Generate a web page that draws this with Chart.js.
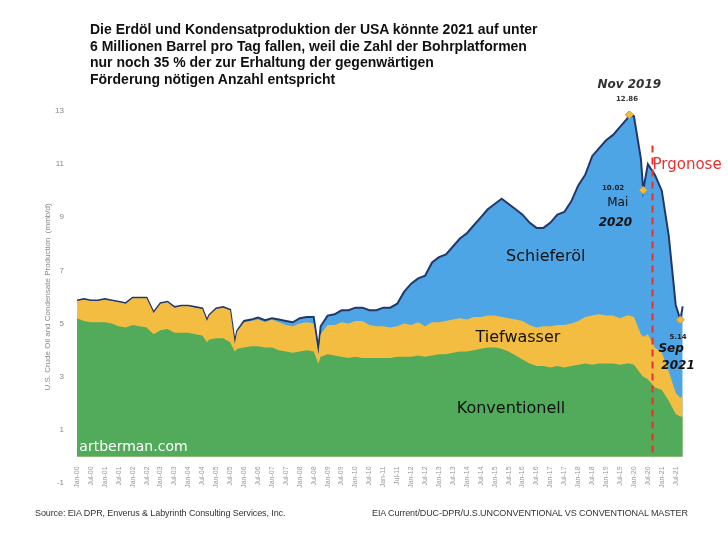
<!DOCTYPE html>
<html>
<head>
<meta charset="utf-8">
<script src="https://cdn.jsdelivr.net/npm/chart.js@4/dist/chart.umd.min.js"></script>
<style>
  body { margin: 0; background: #fff; }
  #wrap { position: relative; width: 728px; height: 539px; }
  .title { position: absolute; left: 90px; top: 21px; font: bold 14px "Liberation Sans", Arial, sans-serif; line-height: 16.5px; color: #111; }
  .foot { position: absolute; top: 508px; font: 9px "Liberation Sans", sans-serif; color: #333; letter-spacing: -0.1px; }
</style>
</head>
<body>
<div id="wrap">
  <canvas id="c" width="728" height="539"></canvas>
  <div class="title">Die Erdöl und Kondensatproduktion der USA könnte 2021 auf unter<br>6 Millionen Barrel pro Tag fallen, weil die Zahl der Bohrplatformen<br>nur noch 35 % der zur Erhaltung der gegenwärtigen<br>Förderung nötigen Anzahl entspricht</div>
  <div class="foot" style="left:35px">Source: EIA DPR, Enverus &amp; Labyrinth Consulting Services, Inc.</div>
  <div class="foot" style="left:372px">EIA Current/DUC-DPR/U.S.UNCONVENTIONAL VS CONVENTIONAL MASTER</div>
</div>
<script>
const MONTHS = ['Jan','Feb','Mar','Apr','May','Jun','Jul','Aug','Sep','Oct','Nov','Dec'];

// sample dates (YYYY-MM)
const dates = [
  '2000-01','2000-04','2000-07','2000-10',
  '2001-01','2001-04','2001-07','2001-10',
  '2002-01','2002-04','2002-07','2002-10',
  '2003-01','2003-04','2003-07','2003-10',
  '2004-01','2004-04','2004-07','2004-09','2004-10',
  '2005-01','2005-04','2005-07','2005-09','2005-10',
  '2006-01','2006-04','2006-07','2006-10',
  '2007-01','2007-04','2007-07','2007-10',
  '2008-01','2008-04','2008-07','2008-09','2008-10',
  '2009-01','2009-04','2009-07','2009-10',
  '2010-01','2010-04','2010-07','2010-10',
  '2011-01','2011-04','2011-07','2011-10',
  '2012-01','2012-04','2012-07','2012-10',
  '2013-01','2013-04','2013-07','2013-10',
  '2014-01','2014-04','2014-07','2014-10',
  '2015-01','2015-04','2015-07','2015-10',
  '2016-01','2016-04','2016-07','2016-10',
  '2017-01','2017-04','2017-07','2017-10',
  '2018-01','2018-04','2018-07','2018-10',
  '2019-01','2019-04','2019-07','2019-10','2019-11',
  '2020-01','2020-04','2020-05','2020-07','2020-10',
  '2021-01','2021-04','2021-07','2021-09','2021-10'
];

// mmb/d, stacked layers
const konventionell = [
  5.2,5.1,5.05,5.05, 5.05,5.0,4.9,4.85, 4.95,4.9,4.85,4.6, 4.75,4.8,4.65,4.65,
  4.65,4.6,4.55,4.3,4.4, 4.45,4.45,4.3,3.95,4.05, 4.1,4.15,4.15,4.1, 4.1,4.0,3.95,3.9,
  3.95,4.0,3.95,3.5,3.75, 3.85,3.8,3.75,3.7, 3.75,3.7,3.7,3.7, 3.7,3.7,3.75,3.75,
  3.75,3.8,3.75,3.8, 3.85,3.85,3.9,3.95, 3.95,4.0,4.05,4.1, 4.1,4.05,3.95,3.8,
  3.65,3.5,3.4,3.4, 3.35,3.4,3.35,3.4, 3.45,3.5,3.45,3.5, 3.5,3.5,3.45,3.5,3.5,
  3.45,3.1,3.0,2.9,2.6, 2.5,2.1,1.6,1.5,1.5
];
const tiefwasser = [
  0.65,0.8,0.8,0.8, 0.85,0.85,0.9,0.9, 1.0,1.05,1.1,0.8, 1.0,1.0,0.95,1.0,
  1.0,1.0,1.0,0.8,0.9, 1.1,1.15,1.2,0.3,0.65, 0.95,0.95,1.0,0.95, 1.05,1.05,1.0,1.0,
  1.05,1.05,1.05,0.35,0.85, 1.1,1.15,1.3,1.3, 1.35,1.4,1.25,1.2, 1.2,1.15,1.15,1.25,
  1.2,1.25,1.15,1.25, 1.2,1.25,1.25,1.25, 1.2,1.25,1.2,1.2, 1.2,1.2,1.25,1.35,
  1.45,1.45,1.45,1.5, 1.55,1.55,1.6,1.6, 1.65,1.75,1.85,1.85, 1.8,1.8,1.75,1.8,1.8,
  1.8,1.5,1.5,1.7,1.5, 1.4,1.1,0.8,0.7,0.8
];
const schieferoel = [
  0.02,0.02,0.02,0.02, 0.02,0.02,0.02,0.02, 0.02,0.02,0.02,0.02, 0.02,0.02,0.02,0.02,
  0.02,0.02,0.02,0.02,0.02, 0.02,0.02,0.02,0.02,0.02, 0.05,0.05,0.08,0.08, 0.05,0.1,0.15,0.15,
  0.2,0.2,0.25,0.2,0.3, 0.35,0.4,0.45,0.5, 0.5,0.5,0.55,0.6, 0.7,0.75,0.85,1.2,
  1.55,1.65,1.9,2.25, 2.45,2.5,2.75,3.0, 3.25,3.45,3.75,4.0, 4.2,4.45,4.3,4.15,
  4.0,3.85,3.75,3.7, 3.9,4.15,4.25,4.6, 5.1,5.35,6.0,6.25, 6.6,6.8,7.2,7.4,7.56,
  7.55,6.6,5.52,6.4,6.5, 6.1,5.1,3.3,2.94,3.35
];

// highlighted totals
const markDates = ['2019-11','2020-05','2021-09'];
const markValues = [12.86, 10.02, 5.14];
const forecastStart = '2020-09';

const yTicks = [-1, 1, 3, 5, 7, 9, 11, 13];

const mIdx = d => { const [y, m] = d.split('-').map(Number); return (y - 2000) * 12 + (m - 1); };
const pts = arr => arr.map((v, i) => ({ x: mIdx(dates[i]), y: v }));

const layer = (label, data, color, border) => ({
  label, data: pts(data), backgroundColor: color, fill: true, stack: 'prod',
  borderColor: border || color, borderWidth: border ? 2 : 0, pointRadius: 0, tension: 0
});

const annotate = {
  id: 'annotate',
  afterDatasetsDraw(chart) {
    const { ctx, scales: { x, y } } = chart;
    const t = (txt, m, v, font, color, align) => {
      ctx.font = font; ctx.fillStyle = color; ctx.textAlign = align || 'center'; ctx.textBaseline = 'middle';
      ctx.fillText(txt, x.getPixelForValue(m), y.getPixelForValue(v));
    };
    ctx.save();
    const fx = x.getPixelForValue(mIdx(forecastStart));
    ctx.strokeStyle = '#e8312f'; ctx.lineWidth = 2; ctx.setLineDash([7, 5]);
    ctx.beginPath(); ctx.moveTo(fx, y.getPixelForValue(11.7)); ctx.lineTo(fx, y.getPixelForValue(0)); ctx.stroke();
    ctx.setLineDash([]);
    t('artberman.com', 1, 0.35, '14px "DejaVu Sans", sans-serif', '#fff', 'left');
    t('Schieferöl', 202, 7.5, '16px "DejaVu Sans", sans-serif', '#111');
    t('Tiefwasser', 190, 4.45, '16px "DejaVu Sans", sans-serif', '#111');
    t('Konventionell', 187, 1.8, '16px "DejaVu Sans", sans-serif', '#111');
    t('Prgonose', 248, 10.95, '15px "DejaVu Sans", sans-serif', '#e8312f', 'left');
    t('Nov 2019', 238, 14.0, 'italic bold 12px "DejaVu Sans", sans-serif', '#333');
    t('12.86', 237, 13.45, 'bold 7px "DejaVu Sans", sans-serif', '#333');
    t('10.02', 231, 10.1, 'bold 7px "DejaVu Sans", sans-serif', '#222');
    t('Mai', 233, 9.55, '12px "DejaVu Sans", sans-serif', '#111');
    t('2020', 232, 8.8, 'italic bold 12px "DejaVu Sans", sans-serif', '#111');
    t('5.14', 259, 4.5, 'bold 7px "DejaVu Sans", sans-serif', '#222');
    t('Sep', 256, 4.05, 'italic bold 12px "DejaVu Sans", sans-serif', '#111');
    t('2021', 259, 3.4, 'italic bold 12px "DejaVu Sans", sans-serif', '#111');
    ctx.restore();
  }
};

new Chart(document.getElementById('c'), {
  type: 'line',
  data: {
    datasets: [
      {
        label: 'marks', data: markDates.map((d, i) => ({ x: mIdx(d), y: markValues[i] })),
        stack: 'marks', showLine: false, fill: false, pointStyle: 'rectRot', pointRadius: 4,
        pointBackgroundColor: '#f4bc3f', pointBorderColor: '#c99a2e', pointBorderWidth: 1
      },
      layer('Konventionell', konventionell, '#52ab5b'),
      layer('Tiefwasser', tiefwasser, '#f3bd42'),
      layer('Schieferöl', schieferoel, '#4da5e6', '#23386a')
    ]
  },
  options: {
    responsive: false, animation: false,
    layout: { padding: { left: 41, right: 43, top: 111, bottom: 56 } },
    plugins: { legend: { display: false }, tooltip: { enabled: false } },
    scales: {
      x: {
        type: 'linear', min: 0, max: 262, position: { y: 0 },
        grid: { display: false }, border: { display: false },
        ticks: {
          stepSize: 6, autoSkip: false, maxRotation: 90, minRotation: 90, padding: 2, z: 1,
          color: '#999', font: { size: 7, family: 'Liberation Sans' },
          callback: v => v % 6 === 0 ? MONTHS[v % 12] + '-' + String(Math.floor(v / 12)).padStart(2, '0') : ''
        }
      },
      y: {
        stacked: true, min: -1, max: 13,
        grid: { display: false }, border: { display: false },
        afterFit: s => { s.width = 36; },
        afterBuildTicks: s => { s.ticks = yTicks.map(v => ({ value: v })); },
        ticks: { color: '#888', font: { size: 8, family: 'Liberation Sans' }, padding: 5 },
        title: { display: true, text: 'U.S. Crude Oil and Condensate Production  (mmb/d)', color: '#888', font: { size: 8, family: 'Liberation Sans' }, padding: 2 }
      }
    }
  },
  plugins: [annotate]
});
</script>
</body>
</html>
